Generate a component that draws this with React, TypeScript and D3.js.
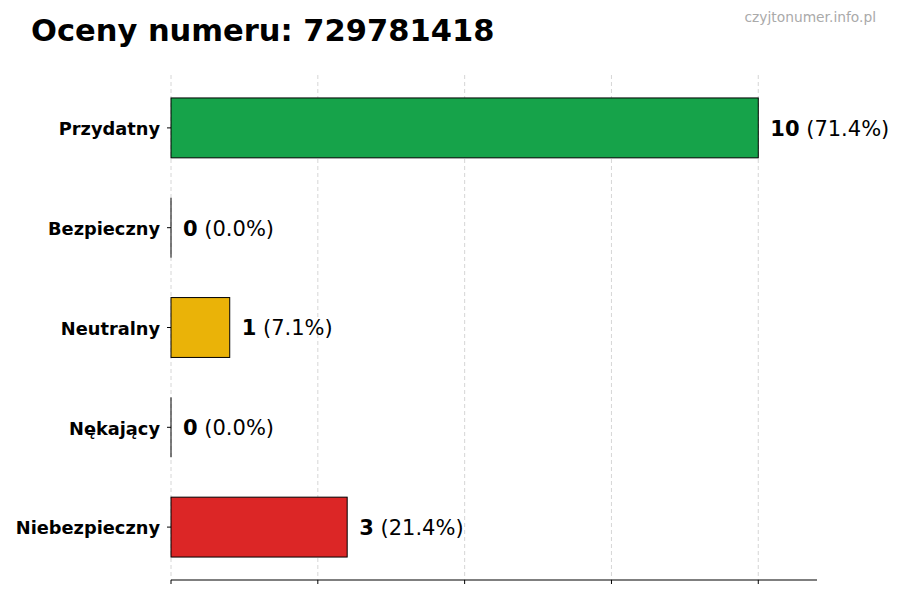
import React from "react";
import * as d3 from "d3";

const categories = ["Przydatny", "Bezpieczny", "Neutralny", "Nękający", "Niebezpieczny"];
const counts = [10, 0, 1, 0, 3];
const percents = ["71.4%", "0.0%", "7.1%", "0.0%", "21.4%"];
const colors = ["#16a34a", "#9ca3af", "#eab308", "#f97316", "#dc2626"];
const xTicks = [0, 2.5, 5, 7.5, 10];

const W = 900;
const H = 600;
const left = 171;
const right = 817;
const top = 75;
const bottom = 580;

export default function App() {
  const x = d3.scaleLinear().domain([0, 11]).range([left, right]);
  const y = d3.scaleLinear().domain([-0.53, 4.53]).range([top, bottom]);
  const barH = y(0.3) - y(-0.3);
  const font = "'DejaVu Sans', sans-serif";
  return (
    <svg width={W} height={H} style={{ position: "absolute", left: 0, top: 0, background: "#fff" }} fontFamily={font}>
      <rect x={0} y={0} width={W} height={H} fill="#fff" />
      <text x={31} y={41} fontSize={30.5} fontWeight="bold" fill="#000">Oceny numeru: 729781418</text>
      <text x={876} y={22} fontSize={13.8} fill="#aaaaaa" textAnchor="end">czyjtonumer.info.pl</text>
      {xTicks.map((t) => (
        <line key={"g" + t} x1={x(t)} x2={x(t)} y1={top} y2={bottom} stroke="#cccccc" strokeWidth={0.8} strokeDasharray="4,3" />
      ))}
      {categories.map((c, i) => (
        <g key={c}>
          {counts[i] > 0 ? (
            <rect
              x={x(0)}
              y={y(i) - barH / 2}
              width={x(counts[i]) - x(0)}
              height={barH}
              fill={colors[i]}
              stroke="#000"
              strokeWidth={1}
            />
          ) : (
            <line x1={x(0)} x2={x(0)} y1={y(i) - barH / 2} y2={y(i) + barH / 2} stroke="#000" strokeWidth={1} />
          )}
          <line x1={x(0) - 4} x2={x(0)} y1={y(i)} y2={y(i)} stroke="#000" strokeWidth={1} />
          <text x={x(0) - 11} y={y(i) + 1} dy="0.35em" textAnchor="end" fontSize={17.8} fontWeight="bold" fill="#000">{c}</text>
          <text x={x(counts[i]) + 12} y={y(i) + 0.5} dy="0.35em" fontSize={21} fill="#000">
            <tspan fontWeight="bold">{counts[i]}</tspan>
            <tspan> ({percents[i]})</tspan>
          </text>
        </g>
      ))}
      <line x1={left} x2={right} y1={bottom} y2={bottom} stroke="#000" strokeWidth={1.2} />
      {xTicks.map((t) => (
        <line key={"t" + t} x1={x(t)} x2={x(t)} y1={bottom} y2={bottom + 4} stroke="#000" strokeWidth={1} />
      ))}
    </svg>
  );
}
